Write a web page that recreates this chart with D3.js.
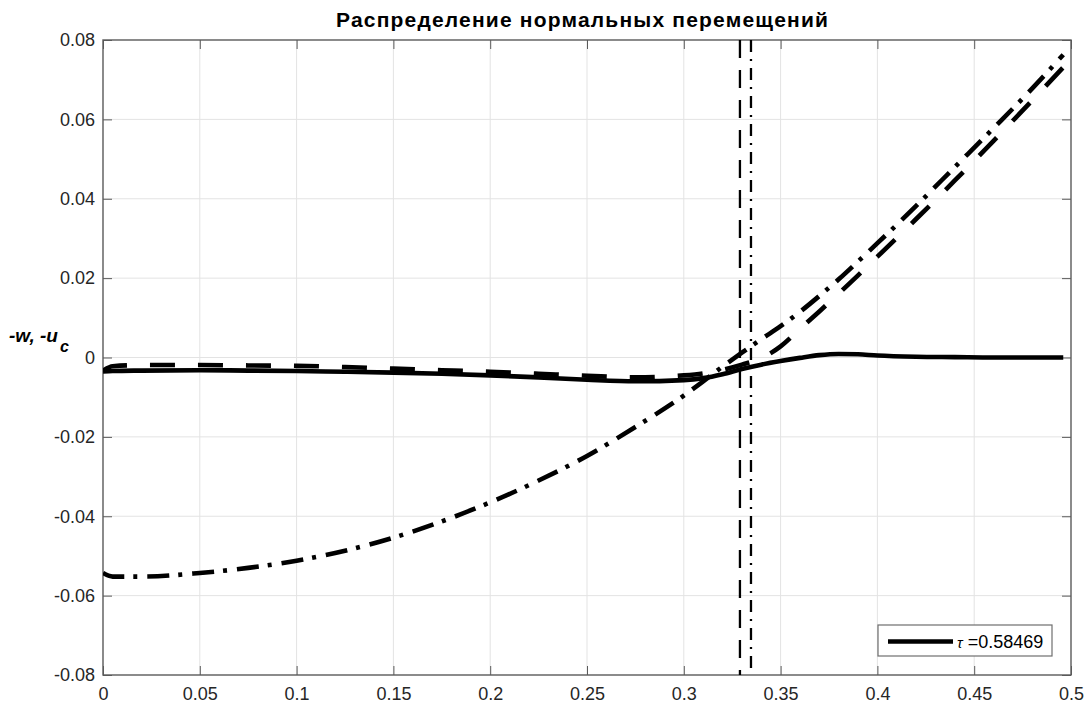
<!DOCTYPE html>
<html>
<head>
<meta charset="utf-8">
<script src="https://cdn.jsdelivr.net/npm/d3@7"></script>
<style>
  html, body { margin: 0; padding: 0; background: #fff; }
  svg { display: block; }
  text { font-family: "Liberation Sans", Arial, Helvetica, sans-serif; }
</style>
</head>
<body>
<svg id="chart" width="1091" height="706"></svg>
<script>
// Coordinate along the section
const xs = [0, 0.005, 0.02, 0.05, 0.075, 0.1, 0.125, 0.15, 0.175, 0.2, 0.225, 0.25, 0.275, 0.3,
            0.31, 0.32, 0.33, 0.34, 0.35, 0.36, 0.37, 0.38, 0.39, 0.4, 0.42, 0.44, 0.46, 0.48, 0.496];

// Normal displacement -w (solid)
const wSolid = [-0.0035, -0.0034, -0.0033, -0.0032, -0.0033, -0.0034, -0.0036, -0.0038, -0.0041, -0.0045,
                -0.0050, -0.0056, -0.0060, -0.0057, -0.0052, -0.0042, -0.0029, -0.0018, -0.0009, -0.0001,
                0.0006, 0.0009, 0.0008, 0.0005, 0.0002, 0.0001, 0.0000, 0.0000, 0.0000];

// Second displacement curve (dashed)
const wDashed = [-0.0033, -0.0022, -0.0019, -0.0019, -0.0020, -0.0021, -0.0024, -0.0028, -0.0032, -0.0036,
                 -0.0041, -0.0046, -0.0050, -0.0045, -0.0040, -0.0031, -0.0018, -0.0002, 0.0028, 0.0072,
                 0.0116, 0.0161, 0.0207, 0.0254, 0.0349, 0.0446, 0.0546, 0.0648, 0.0731];

// Displacement -u_c (dash-dot)
const ucDashDot = [-0.0543, -0.0552, -0.0552, -0.0543, -0.0530, -0.0512, -0.0487, -0.0454, -0.0413, -0.0365,
                   -0.0310, -0.0248, -0.0175, -0.0096, -0.0060, -0.0023, 0.0012, 0.0046, 0.0079, 0.0115,
                   0.0155, 0.0197, 0.0242, 0.0288, 0.0382, 0.0480, 0.0578, 0.0678, 0.0763];

// Contact zone boundaries
const boundaryDashed = 0.329;
const boundaryDashDot = 0.3347;

// Axis ticks
const xTicks = [0, 0.05, 0.1, 0.15, 0.2, 0.25, 0.3, 0.35, 0.4, 0.45, 0.5];
const xTickLabels = ["0", "0.05", "0.1", "0.15", "0.2", "0.25", "0.3", "0.35", "0.4", "0.45", "0.5"];
const yTicks = [-0.08, -0.06, -0.04, -0.02, 0, 0.02, 0.04, 0.06, 0.08];
const yTickLabels = ["-0.08", "-0.06", "-0.04", "-0.02", "0", "0.02", "0.04", "0.06", "0.08"];

const titleText = "Распределение нормальных перемещений";
const tauLabel = "τ";
const tauValue = " =0.58469";

const svg = d3.select("#chart");
const W = 1091, H = 706;
const m = { left: 103, right: 20, top: 40, bottom: 31 };
const iw = W - m.left - m.right, ih = H - m.top - m.bottom;

const x = d3.scaleLinear().domain([0, 0.5]).range([0, iw]);
const y = d3.scaleLinear().domain([-0.08, 0.08]).range([ih, 0]);

const g = svg.append("g").attr("transform", `translate(${m.left},${m.top})`);

svg.append("defs").append("clipPath").attr("id", "plotClip")
  .append("rect").attr("width", iw).attr("height", ih);

// grid
g.append("g").selectAll("line").data(xTicks.slice(1, -1)).join("line")
  .attr("x1", d => x(d)).attr("x2", d => x(d)).attr("y1", 0).attr("y2", ih)
  .attr("stroke", "#e3e3e3").attr("stroke-width", 1);
g.append("g").selectAll("line").data(yTicks.slice(1, -1)).join("line")
  .attr("y1", d => y(d)).attr("y2", d => y(d)).attr("x1", 0).attr("x2", iw)
  .attr("stroke", "#e3e3e3").attr("stroke-width", 1);

const tickLen = 9;
const axisColor = "#5a5a5a";
const labelColor = "#262626";

function styleAxis(sel) {
  sel.select(".domain").remove();
  sel.selectAll(".tick line").attr("stroke", axisColor).attr("stroke-width", 1);
  sel.selectAll(".tick text").attr("fill", labelColor).style("font-size", "18px")
    .style("font-family", '"Liberation Sans", Arial, sans-serif');
}

const xAxis = d3.axisBottom(x).tickValues(xTicks)
  .tickFormat((d, i) => xTickLabels[i]).tickSizeInner(-tickLen).tickSizeOuter(0).tickPadding(12.5);
g.append("g").attr("transform", `translate(0,${ih})`).call(xAxis).call(styleAxis);

const xAxisTop = d3.axisTop(x).tickValues(xTicks).tickFormat("").tickSizeInner(-tickLen).tickSizeOuter(0);
g.append("g").call(xAxisTop).call(styleAxis);

const yAxis = d3.axisLeft(y).tickValues(yTicks)
  .tickFormat((d, i) => yTickLabels[i]).tickSizeInner(-tickLen).tickSizeOuter(0).tickPadding(8);
g.append("g").call(yAxis).call(styleAxis);

const yAxisRight = d3.axisRight(y).tickValues(yTicks).tickFormat("").tickSizeInner(-tickLen).tickSizeOuter(0);
g.append("g").attr("transform", `translate(${iw},0)`).call(yAxisRight).call(styleAxis);

// plot frame
g.append("rect").attr("width", iw).attr("height", ih)
  .attr("fill", "none").attr("stroke", axisColor).attr("stroke-width", 1.4);

// curves
const plot = g.append("g").attr("clip-path", "url(#plotClip)");
const line = d3.line().x(d => x(d[0])).y(d => y(d[1])).curve(d3.curveMonotoneX);

const series = [
  { values: wSolid, dash: null },
  { values: wDashed, dash: "25,23" },
  { values: ucDashDot, dash: "22,9,4,10" }
];

series.forEach(s => {
  plot.append("path")
    .datum(xs.map((v, i) => [v, s.values[i]]))
    .attr("d", line)
    .attr("fill", "none")
    .attr("stroke", "#000")
    .attr("stroke-width", 4.6)
    .attr("stroke-linejoin", "round")
    .attr("stroke-dasharray", s.dash);
});

// boundary markers
plot.append("line")
  .attr("x1", x(boundaryDashed)).attr("x2", x(boundaryDashed))
  .attr("y1", 0).attr("y2", ih)
  .attr("stroke", "#000").attr("stroke-width", 2.3).attr("stroke-dasharray", "18,12");
plot.append("line")
  .attr("x1", x(boundaryDashDot)).attr("x2", x(boundaryDashDot))
  .attr("y1", 0).attr("y2", ih)
  .attr("stroke", "#000").attr("stroke-width", 2.3).attr("stroke-dasharray", "12,7,2,7");

// title
svg.append("text")
  .attr("x", 582).attr("y", 27)
  .attr("text-anchor", "middle")
  .attr("textLength", 492).attr("lengthAdjust", "spacing")
  .style("font-size", "21px").style("font-weight", "bold").attr("fill", "#000")
  .text(titleText);

// y label
const yl = svg.append("text").attr("x", 9).attr("y", 342)
  .style("font-weight", "bold").style("font-style", "italic").attr("fill", "#000");
yl.append("tspan").style("font-size", "19px").text("-w, -u");
yl.append("tspan").attr("dx", 2).attr("dy", 10).style("font-size", "16px").text("c");

// legend
const lg = svg.append("g").attr("transform", "translate(878,625)");
lg.append("rect").attr("width", 174).attr("height", 31)
  .attr("fill", "#fff").attr("stroke", "#6e6e6e").attr("stroke-width", 1.2);
lg.append("line").attr("x1", 10).attr("x2", 75).attr("y1", 16.5).attr("y2", 16.5)
  .attr("stroke", "#000").attr("stroke-width", 4.6);
const lt = lg.append("text").attr("x", 79).attr("y", 23).attr("fill", "#000");
lt.append("tspan").style("font-size", "15px").style("font-style", "italic").text(tauLabel);
lt.append("tspan").style("font-size", "18px").text(tauValue);
</script>
</body>
</html>
